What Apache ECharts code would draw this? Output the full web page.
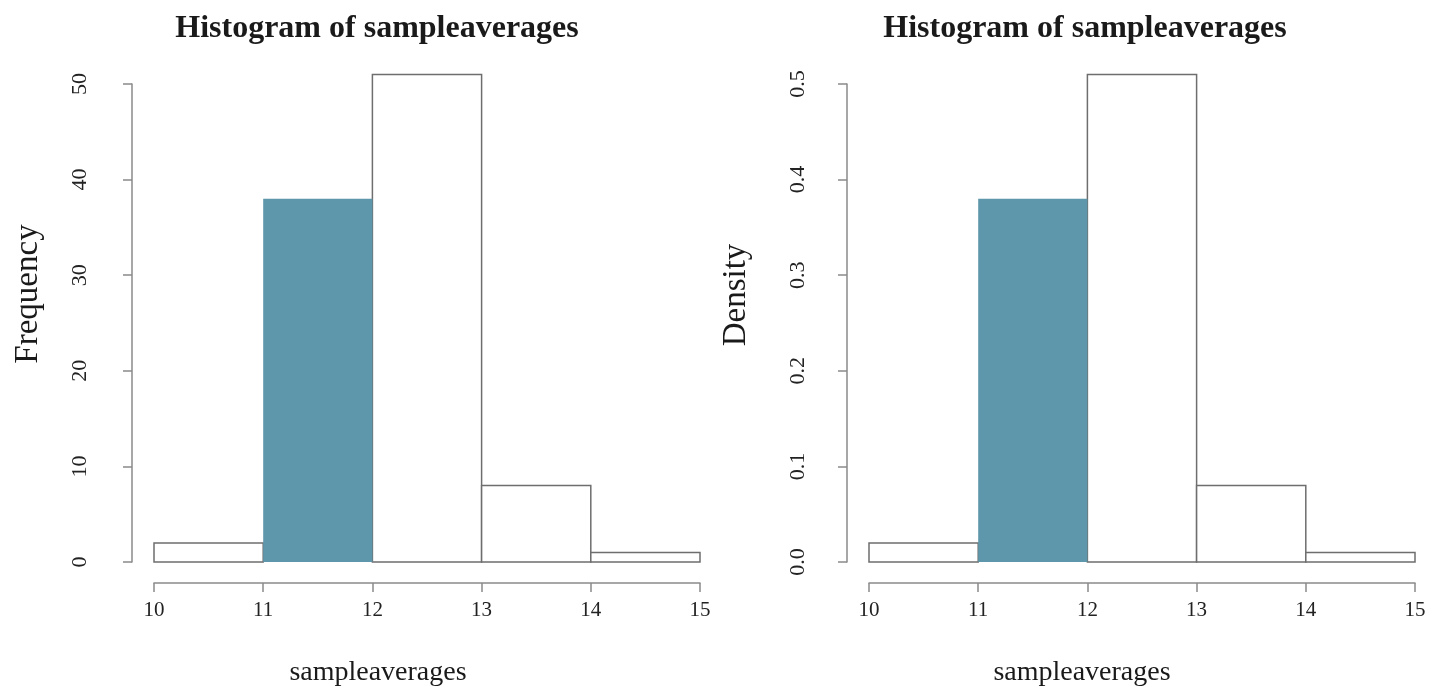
<!DOCTYPE html>
<html>
<head>
<meta charset="utf-8">
<script src="https://cdn.jsdelivr.net/npm/echarts@6/dist/echarts.min.js"></script>
<style>html,body{margin:0;padding:0;background:#fff;}#c{width:1444px;height:689px;}</style>
</head>
<body>
<div id="c"></div>
<script>
// ---- data ----
const binEdges = [10, 11, 12, 13, 14, 15];
const frequency = [2, 38, 51, 8, 1];
const density = [0.02, 0.38, 0.51, 0.08, 0.01];
const highlightBin = 1;
const titleText = 'Histogram of sampleaverages';
const xName = 'sampleaverages';
const yNames = ['Frequency', 'Density'];

// ---- style ----
const SERIF = '"Liberation Serif", "DejaVu Serif", serif';
const TEAL = '#5e96ac';
const AXIS = '#8a8a8a';
const BORDER = '#6e6e6e';

const chart = echarts.init(document.getElementById('c'));

function binData(vals) {
  return vals.map((v, i) => [binEdges[i], binEdges[i + 1], v]);
}

function histSeries(idx, vals) {
  return {
    type: 'custom',
    xAxisIndex: idx,
    yAxisIndex: idx,
    clip: false,
    encode: { x: [0, 1], y: 2 },
    data: binData(vals),
    renderItem(params, api) {
      const p0 = api.coord([api.value(0), 0]);
      const p1 = api.coord([api.value(1), api.value(2)]);
      const hi = params.dataIndex === highlightBin;
      return {
        type: 'rect',
        z2: hi ? 10 : 1,
        shape: { x: p0[0], y: p1[1], width: p1[0] - p0[0], height: p0[1] - p1[1] },
        style: hi ? { fill: TEAL, stroke: null } : { fill: '#fff', stroke: BORDER, lineWidth: 1.5 }
      };
    }
  };
}

const grids = [
  { left: 154, width: 546, top: 84, height: 478 },
  { left: 869, width: 546, top: 84, height: 478 }
];

function xAxis(idx) {
  return {
    type: 'value', gridIndex: idx, min: binEdges[0], max: binEdges[binEdges.length - 1], interval: 1,
    offset: 21,
    splitLine: { show: false },
    axisLine: { show: true, onZero: false, lineStyle: { color: AXIS, width: 1.5 } },
    axisTick: { show: true, length: 9, lineStyle: { color: AXIS, width: 1.5 } },
    axisLabel: { color: '#222', fontFamily: SERIF, fontSize: 21, margin: 17 }
  };
}
function yAxis(idx, max, interval, fmt, margin) {
  return {
    type: 'value', gridIndex: idx, min: 0, max: max, interval: interval,
    offset: 22,
    splitLine: { show: false },
    axisLine: { show: true, onZero: false, lineStyle: { color: AXIS, width: 1.5 } },
    axisTick: { show: true, length: 9, lineStyle: { color: AXIS, width: 1.5 } },
    axisLabel: { color: '#222', fontFamily: SERIF, fontSize: 22, rotate: 90, margin: margin, formatter: fmt }
  };
}

chart.setOption({
  backgroundColor: '#fff',
  animation: false,
  title: [
    { text: titleText, left: 372, top: 8, textAlign: 'center',
      textStyle: { fontFamily: SERIF, fontWeight: 'bold', fontSize: 32, color: '#1a1a1a' } },
    { text: titleText, left: 1080, top: 8, textAlign: 'center',
      textStyle: { fontFamily: SERIF, fontWeight: 'bold', fontSize: 32, color: '#1a1a1a' } },
    { text: xName, left: 373, top: 654, textAlign: 'center',
      textStyle: { fontFamily: SERIF, fontWeight: 'normal', fontSize: 28, color: '#1a1a1a' } },
    { text: xName, left: 1077, top: 654, textAlign: 'center',
      textStyle: { fontFamily: SERIF, fontWeight: 'normal', fontSize: 28, color: '#1a1a1a' } }
  ],
  graphic: [
    { type: 'text', x: 28, y: 294, rotation: Math.PI / 2,
      style: { text: yNames[0], font: '33px ' + SERIF, fill: '#1a1a1a', align: 'center', verticalAlign: 'middle' } },
    { type: 'text', x: 736, y: 295, rotation: Math.PI / 2,
      style: { text: yNames[1], font: '33px ' + SERIF, fill: '#1a1a1a', align: 'center', verticalAlign: 'middle' } }
  ],
  grid: grids,
  xAxis: [xAxis(0), xAxis(1)],
  yAxis: [
    yAxis(0, 50, 10, v => String(v), 41),
    yAxis(1, 0.5, 0.1, v => v.toFixed(1), 38)
  ],
  series: [histSeries(0, frequency), histSeries(1, density)]
});
</script>
</body>
</html>
